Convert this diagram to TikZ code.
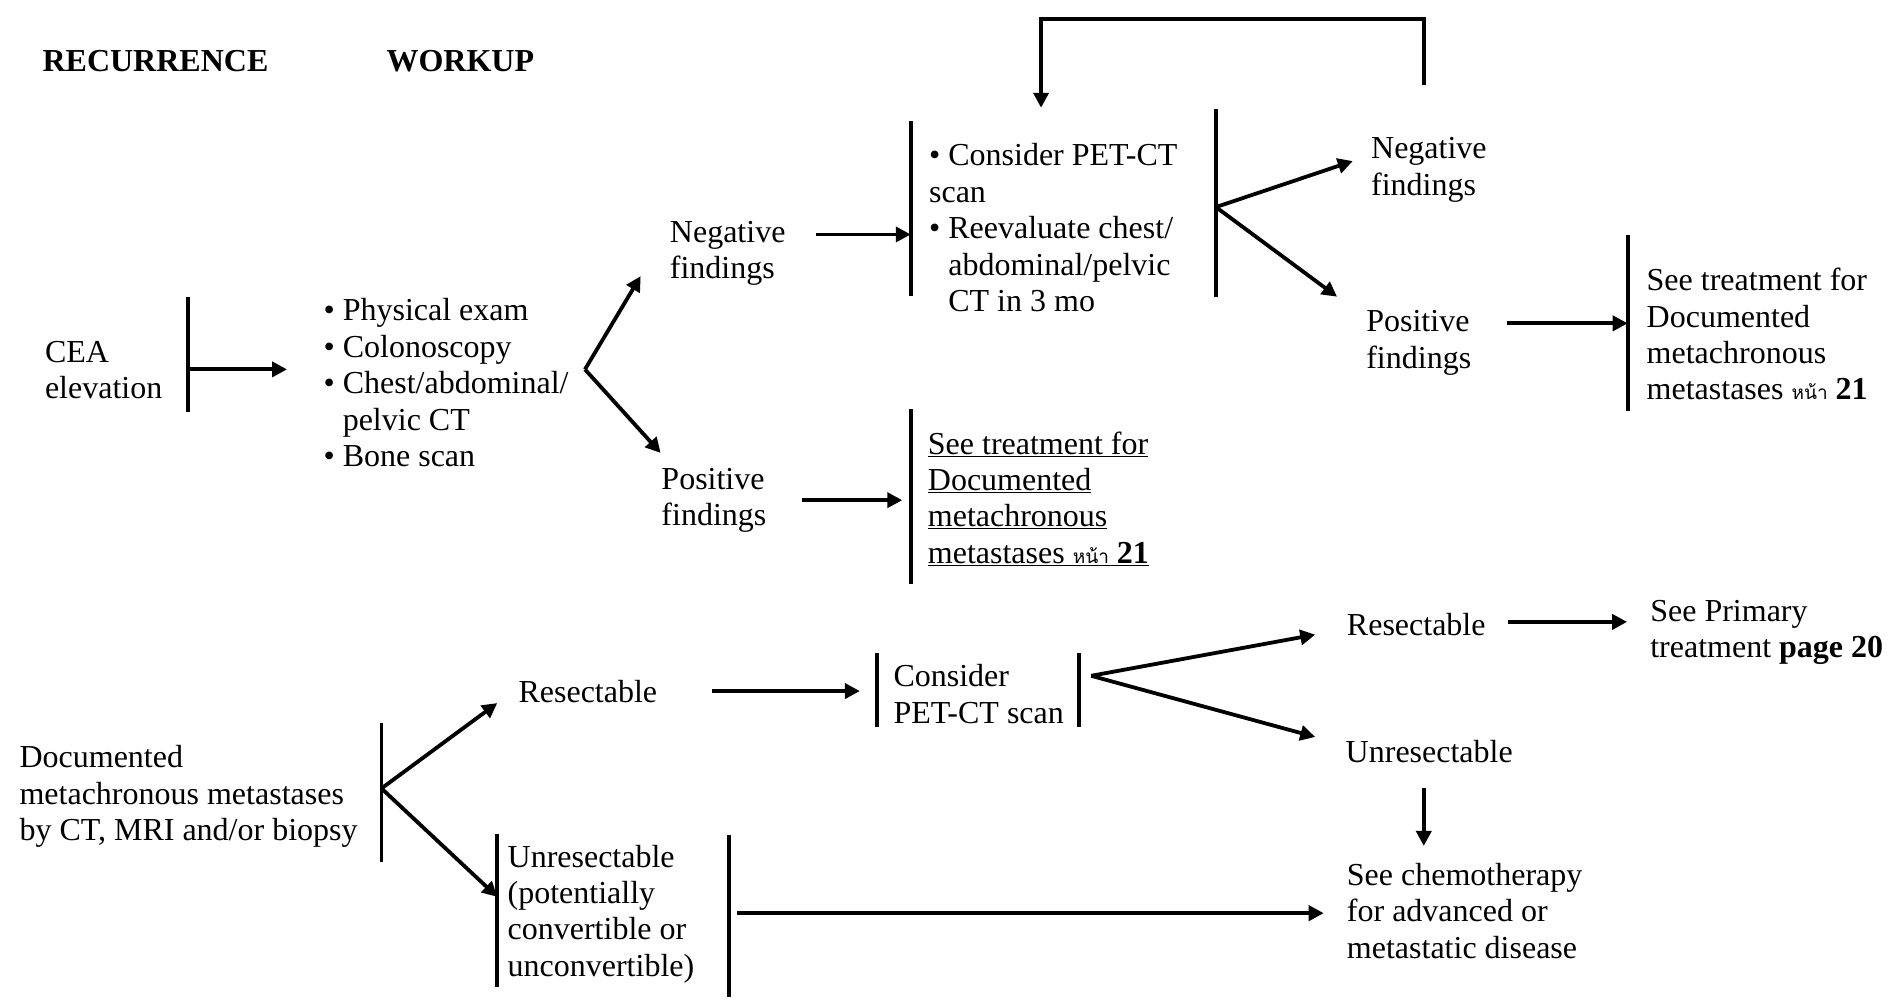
\documentclass[tikz,border=0pt]{standalone}
\usepackage{fontspec}
\setmainfont{Liberation Serif}
\newfontfamily\thaifont[Script=Thai]{Loma}
\usetikzlibrary{arrows.meta}
\newcommand\ml[1]{\vtop{\baselineskip=36.4pt\lineskiplimit=-20pt\halign{##\hfil\cr#1\crcr}}}
\newcommand\thp{{\thaifont\fontsize{19}{19}\selectfont หน้า}}
\newcommand\ind{\hphantom{•\ }}
\begin{document}
\begin{tikzpicture}[x=1.2111pt,y=-1.2111pt,
  txt/.style={anchor=base west, inner sep=0pt, font=\fontsize{32}{36}\selectfont},
  hdr/.style={txt, font=\fontsize{32}{36}\selectfont\bfseries},
  bar/.style={line width=3.8pt},
  arr/.style={line width=3.8pt, -{Triangle[length=15pt,width=15pt]}}]
\useasboundingbox (0,0) rectangle (1568,827);

% headers
\node[hdr] (rec) at (35,59) {RECURRENCE};
\node[hdr] (wk) at (319,59) {WORKUP};

% CEA
\node[txt] (cea) at (37,299) {\ml{CEA\cr elevation}};
\coordinate (b1t) at (155,245); \coordinate (b1b) at (155,340); \coordinate (b1m) at (155,305);
\draw[bar] (b1t) -- (b1b);
\coordinate (wlin) at (237,305);
\draw[arr] (b1m) -- (wlin);
\node[txt] (wl) at (267,265) {\ml{•\ Physical exam\cr •\ Colonoscopy\cr •\ Chest/abdominal/\cr \ind pelvic CT\cr •\ Bone scan}};

% branch 1
\coordinate (v1) at (483,305);
\coordinate (t1a) at (529,228); \coordinate (t1b) at (545.5,374);
\draw[arr] (v1) -- (t1a);
\draw[arr] (v1) -- (t1b);
\node[txt] (neg1) at (553,200) {\ml{Negative\cr findings}};
\node[txt] (pos1) at (546,404) {\ml{Positive\cr findings}};

% PET-CT block
\coordinate (n1o) at (674,193.6); \coordinate (b2m) at (752,193.6);
\draw[arr] (n1o) -- (b2m);
\coordinate (b2t) at (752,100); \coordinate (b2b) at (752,244);
\draw[bar] (b2t) -- (b2b);
\node[txt] (pet) at (767,137) {\ml{•\ Consider PET-CT\cr scan\cr •\ Reevaluate chest/\cr \ind abdominal/pelvic\cr \ind CT in 3 mo}};
\coordinate (b3t) at (1004,90); \coordinate (b3b) at (1004,245);
\draw[bar] (b3t) -- (b3b);

% branch 3
\coordinate (v3) at (1004,171);
\coordinate (t3a) at (1117,133); \coordinate (t3b) at (1104,245);
\draw[arr] (v3) -- (t3a);
\draw[arr] (v3) -- (t3b);
\node[txt] (neg2) at (1132,131) {\ml{Negative\cr findings}};
\node[txt] (pos2) at (1128,274) {\ml{Positive\cr findings}};

% loop
\coordinate (la) at (1176,70); \coordinate (lb) at (1176,16);
\coordinate (lc) at (859.6,16); \coordinate (ld) at (859.6,89);
\draw[arr] (la) -- (lb) -- (lc) -- (ld);

% right see treatment
\coordinate (p2o) at (1244,267); \coordinate (b4m) at (1344,267);
\draw[arr] (p2o) -- (b4m);
\coordinate (b4t) at (1344,194); \coordinate (b4b) at (1344,339);
\draw[bar] (b4t) -- (b4b);
\node[txt] (str) at (1359.5,240) {\ml{See treatment for\cr Documented\cr metachronous\cr metastases \thp\ \textbf{21}}};

% middle underlined see treatment
\coordinate (p1o) at (662,413); \coordinate (p1e) at (745,413);
\draw[arr] (p1o) -- (p1e);
\coordinate (b5t) at (752,338); \coordinate (b5b) at (752,482);
\draw[bar] (b5t) -- (b5b);
\node[txt] (stm) at (766,375) {\ml{\underline{See treatment for}\cr \underline{Documented}\cr \underline{metachronous}\cr \underline{metastases \thp\ \textbf{21}}}};

% bottom part
\node[txt] (doc) at (16,634) {\ml{Documented\cr metachronous metastases\cr by CT, MRI and/or biopsy}};
\coordinate (b6t) at (315,597); \coordinate (b6b) at (315,712);
\draw[bar] (b6t) -- (b6b);
\coordinate (v6) at (315,651);
\coordinate (t6a) at (410.6,580.5); \coordinate (t6b) at (410.6,740.5);
\draw[arr] (v6) -- (t6a);
\draw[arr] (v6) -- (t6b);
\node[txt] (res1) at (428,580) {Resectable};
\coordinate (r1o) at (588,570.6); \coordinate (r1e) at (710,570.6);
\draw[arr] (r1o) -- (r1e);
\coordinate (b7t) at (724,539); \coordinate (b7b) at (724,600);
\draw[bar] (b7t) -- (b7b);
\node[txt] (cpet) at (737.6,567) {\ml{Consider\cr PET-CT scan}};
\coordinate (b8t) at (891,539); \coordinate (b8b) at (891,600);
\draw[bar] (b8t) -- (b8b);
\coordinate (v8) at (901,558);
\coordinate (t8a) at (1086,524); \coordinate (t8b) at (1086,608.5);
\draw[arr] (v8) -- (t8a);
\draw[arr] (v8) -- (t8b);
\node[txt] (res2) at (1112,525) {Resectable};
\coordinate (r2o) at (1245,513.5); \coordinate (r2e) at (1343.5,513.5);
\draw[arr] (r2o) -- (r2e);
\node[txt] (prim) at (1362.5,513) {\ml{See Primary\cr treatment \textbf{page 20}}};
\node[txt] (unr2) at (1111,630) {Unresectable};
\coordinate (u2o) at (1175.6,651); \coordinate (u2e) at (1175.6,698.5);
\draw[arr] (u2o) -- (u2e);
\node[txt] (chemo) at (1112,731) {\ml{See chemotherapy\cr for advanced or\cr metastatic disease}};
\coordinate (b9t) at (410.6,689); \coordinate (b9b) at (410.6,815);
\draw[bar] (b9t) -- (b9b);
\node[txt] (unr1) at (419,716) {\ml{Unresectable\cr (potentially\cr convertible or\cr unconvertible)}};
\coordinate (b10t) at (601.6,689.5); \coordinate (b10b) at (601.6,823);
\draw[bar] (b10t) -- (b10b);
\coordinate (u1o) at (608.7,754); \coordinate (u1e) at (1093,754);
\draw[arr] (u1o) -- (u1e);
\end{tikzpicture}
\end{document}
